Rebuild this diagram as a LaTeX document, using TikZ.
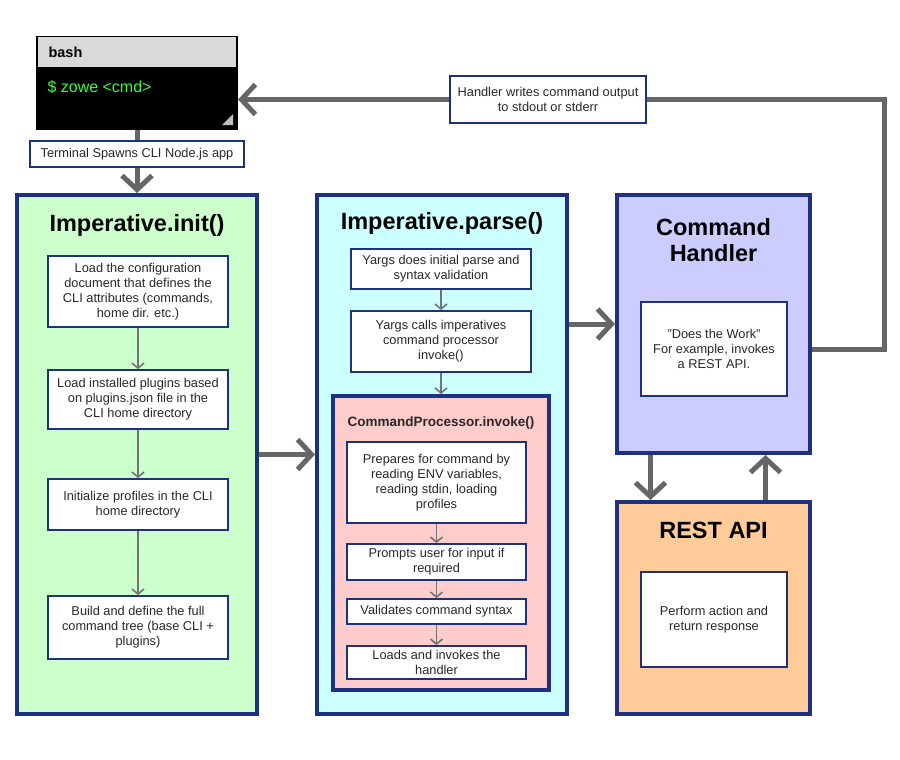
\documentclass[tikz,border=0pt]{standalone}
\usepackage{fontspec}
\setmainfont{Liberation Sans}
\usetikzlibrary{arrows.meta}

\definecolor{navy}{RGB}{30,48,128}
\definecolor{flowgrey}{RGB}{102,102,102}
\definecolor{thingrey}{RGB}{115,115,115}
\definecolor{inktext}{RGB}{40,40,40}
\definecolor{initfill}{RGB}{204,255,204}
\definecolor{parsefill}{RGB}{204,255,255}
\definecolor{procfill}{RGB}{255,204,204}
\definecolor{handfill}{RGB}{204,204,255}
\definecolor{restfill}{RGB}{255,204,153}
\definecolor{termgreen}{RGB}{51,255,51}

\begin{document}
\begin{tikzpicture}[x=1pt, y=-1pt]

% --- Styles ---
\tikzset{
    panel/.style={draw=navy, line width=4pt, inner sep=0pt},
    stepbox/.style={draw=navy, line width=1.8pt, fill=white, align=center,
        inner sep=2pt, text=inktext, font=\fontsize{12.8}{15}\selectfont},
    tag/.style={draw=navy, line width=1.8pt, fill=white, align=center,
        inner sep=2pt, text=inktext, font=\fontsize{12.8}{15}\selectfont},
    title/.style={align=center, font=\fontsize{23.5}{26}\selectfont\bfseries},
    flow/.style={draw=flowgrey, line width=5pt,
        -{Straight Barb[length=14pt, width=30pt]}},
    flowline/.style={draw=flowgrey, line width=5pt},
    stepline/.style={draw=thingrey, line width=1.6pt,
        -{Straight Barb[length=5pt, width=12pt]}}
}

\useasboundingbox (0,0) rectangle (900,760);

% --- Terminal ---
\node[draw=black, line width=2pt, fill=black, minimum width=200pt,
      minimum height=92pt] (bash) at (137,83) {};
\node[fill=black!15, minimum width=198pt, minimum height=30pt, inner sep=0pt,
      anchor=north] (bashhead) at ([yshift=-1pt]bash.north) {};
\node[anchor=west, font=\fontsize{14.5}{16}\selectfont\bfseries] (bashname)
      at (45,52) {bash};
\node[anchor=west, text=termgreen, font=\fontsize{16}{18}\selectfont] (prompt)
      at (44,87) {\$ zowe <cmd>};
\fill[black!25] ([shift={(-5,-5)}]bash.south east) -- ++(-11,0) -- ++(11,-11) -- cycle;

\node[tag, minimum width=214pt, minimum height=26pt] (spawn) at (137,154)
      {Terminal Spawns CLI Node.js app};

% --- Imperative.init() ---
\node[panel, fill=initfill, minimum width=240pt, minimum height=519pt] (init)
      at (137,454.5) {};
\node[title] (inittitle) at (137,225) {Imperative.init()};

\node[stepbox, minimum width=180pt, minimum height=71pt] (load) at (138,291.5)
      {Load the configuration\\document that defines the\\CLI attributes (commands,\\home dir. etc.)};
\node[stepbox, minimum width=180pt, minimum height=59pt] (plugins) at (138,399.5)
      {Load installed plugins based\\on plugins.json file in the\\CLI home directory};
\node[stepbox, minimum width=180pt, minimum height=51pt] (profiles) at (138,504.5)
      {Initialize profiles in the CLI\\home directory};
\node[stepbox, minimum width=180pt, minimum height=63pt] (tree) at (138,627.5)
      {Build and define the full\\command tree (base CLI +\\plugins)};

% --- Imperative.parse() ---
\node[panel, fill=parsefill, minimum width=250pt, minimum height=519pt] (parse)
      at (442,454.5) {};
\node[title] (parsetitle) at (442,223) {Imperative.parse()};

\node[stepbox, minimum width=180pt, minimum height=40pt] (yparse) at (441,269)
      {Yargs does initial parse and\\syntax validation};
\node[stepbox, minimum width=180pt, minimum height=61pt] (ycall) at (441,341.5)
      {Yargs calls imperatives\\command processor\\invoke()};

\node[panel, fill=procfill, minimum width=216pt, minimum height=294pt] (proc)
      at (441,543) {};
\node[font=\fontsize{13.5}{15}\selectfont\bfseries, text=inktext] (proctitle)
      at (441,423) {CommandProcessor.invoke()};

\node[stepbox, minimum width=179pt, minimum height=81pt] (prepare) at (436.5,482.5)
      {Prepares for command by\\reading ENV variables,\\reading stdin, loading\\profiles};
\node[stepbox, minimum width=179pt, minimum height=36pt] (prompts) at (436.5,562)
      {Prompts user for input if\\required};
\node[stepbox, minimum width=179pt, minimum height=25pt] (validate) at (436.5,611.5)
      {Validates command syntax};
\node[stepbox, minimum width=179pt, minimum height=33pt] (invoke) at (436.5,662.5)
      {Loads and invokes the\\handler};

% --- Command Handler ---
\node[panel, fill=handfill, minimum width=193pt, minimum height=258pt] (handler)
      at (713.5,324) {};
\node[title] (handtitle) at (713.5,240) {Command\\Handler};
\node[stepbox, minimum width=146pt, minimum height=94pt] (work) at (714,349)
      {"Does the Work"\\For example, invokes\\a REST API.};

% --- REST API ---
\node[panel, fill=restfill, minimum width=193pt, minimum height=212pt] (rest)
      at (713.5,608) {};
\node[title] (resttitle) at (713.5,530) {REST API};
\node[stepbox, minimum width=146pt, minimum height=95pt] (perform) at (714,619.5)
      {Perform action and\\return response};

% --- Output back to terminal ---
\node[tag, minimum width=196pt, minimum height=47pt] (output) at (548,99.5)
      {Handler writes command output\\to stdout or stderr};
\coordinate (turn) at (884,99.5);

% --- Thick connectors ---
\draw[flowline] (bash.south) -- (spawn.north);
\draw[flow] (spawn.south) -- (init.north);
\draw[flow] (init.east) -- (parse.west);
\draw[flow] (parse.east |- handler) -- (handler.west);
\draw[flow] ([xshift=-63pt]handler.south) -- ([xshift=-63pt]rest.north);
\draw[flow] ([xshift=52pt]rest.north) -- ([xshift=52pt]handler.south);
\draw[flowline] (handler.east |- work) -| (turn) -- (output.east);
\draw[flow] (output.west) -- (bash.east |- output);

% --- Thin connectors ---
\draw[stepline] (load) -- (plugins);
\draw[stepline] (plugins) -- (profiles);
\draw[stepline] (profiles) -- (tree);
\draw[stepline] (yparse) -- (ycall);
\draw[stepline] (ycall) -- (proc);
\draw[stepline] (prepare) -- (prompts);
\draw[stepline] (prompts) -- (validate);
\draw[stepline] (validate) -- (invoke);

\end{tikzpicture}
\end{document}
